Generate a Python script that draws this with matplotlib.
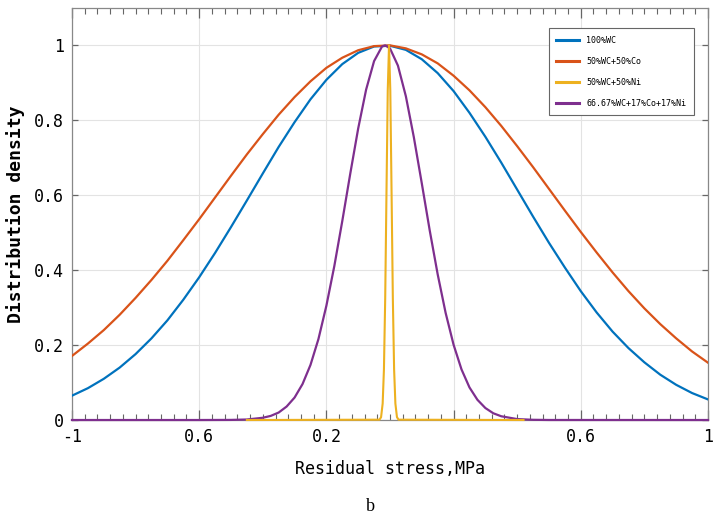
import numpy as np
import matplotlib
matplotlib.use('Agg')
import matplotlib.pyplot as plt
from matplotlib.ticker import MultipleLocator

# values
x_wide = [-1.0, -0.95, -0.9, -0.85, -0.8, -0.75, -0.7, -0.65, -0.6, -0.55, -0.5,
          -0.45, -0.4, -0.35, -0.3, -0.25, -0.2, -0.15, -0.1, -0.05, 0.0,
          0.05, 0.1, 0.15, 0.2, 0.25, 0.3, 0.35, 0.4, 0.45, 0.5,
          0.55, 0.6, 0.65, 0.7, 0.75, 0.8, 0.85, 0.9, 0.95, 1.0]
wc = [0.065, 0.085, 0.110, 0.140, 0.176, 0.218, 0.266, 0.321, 0.381, 0.446, 0.515,
      0.586, 0.658, 0.729, 0.795, 0.856, 0.908, 0.950, 0.980, 0.997, 0.999,
      0.988, 0.963, 0.926, 0.878, 0.820, 0.756, 0.687, 0.615, 0.543, 0.473,
      0.407, 0.344, 0.287, 0.236, 0.192, 0.154, 0.121, 0.094, 0.072, 0.055]
wc_co = [0.171, 0.204, 0.240, 0.281, 0.326, 0.374, 0.425, 0.480, 0.536, 0.594, 0.652,
         0.709, 0.763, 0.815, 0.862, 0.904, 0.940, 0.967, 0.987, 0.998, 1.000,
         0.992, 0.976, 0.952, 0.919, 0.880, 0.835, 0.785, 0.731, 0.675, 0.617,
         0.559, 0.502, 0.447, 0.394, 0.344, 0.298, 0.256, 0.218, 0.183, 0.153]

x_ni = [-0.45, -0.033, -0.028, -0.023, -0.019, -0.015, -0.011, -0.007, -0.003,
        0.001, 0.005, 0.009, 0.013, 0.017, 0.022, 0.027, 0.42]
wc_ni = [0.0, 0.0009, 0.0076, 0.044, 0.135, 0.325, 0.607, 0.88, 1.0,
         0.88, 0.607, 0.325, 0.135, 0.044, 0.0076, 0.0009, 0.0]

x_mix = [-1.0, -0.6, -0.5, -0.45, -0.4, -0.375, -0.35, -0.325, -0.3, -0.275, -0.25,
         -0.225, -0.2, -0.175, -0.15, -0.125, -0.1, -0.075, -0.05, -0.025, -0.015,
         0.0, 0.025, 0.05, 0.075, 0.1, 0.125, 0.15, 0.175, 0.2, 0.225,
         0.25, 0.275, 0.3, 0.325, 0.35, 0.4, 0.45, 0.5, 1.0]
wc_co_ni = [0.0, 0.0, 0.0003, 0.0014, 0.006, 0.011, 0.020, 0.036, 0.060, 0.096, 0.147,
            0.216, 0.305, 0.411, 0.531, 0.657, 0.778, 0.882, 0.958, 0.997, 1.0,
            0.992, 0.946, 0.864, 0.755, 0.632, 0.506, 0.389, 0.286, 0.201, 0.135,
            0.087, 0.054, 0.032, 0.018, 0.010, 0.0025, 0.0006, 0.0001, 0.0]

labels = ['100%WC', '50%WC+50%Co', '50%WC+50%Ni', '66.67%WC+17%Co+17%Ni']
colors = ['#0072BD', '#D95319', '#EDB120', '#7E2F8E']

x_ticks = [-1, -0.6, -0.2, 0.2, 0.6, 1]
x_ticklabels = ['-1', '0.6', '0.2', '', '0.6', '1']
y_ticks = [0, 0.2, 0.4, 0.6, 0.8, 1]
y_ticklabels = ['0', '0.2', '0.4', '0.6', '0.8', '1']

mono = 'DejaVu Sans Mono'

fig = plt.figure(figsize=(7.17, 5.27), dpi=100)
ax = fig.add_axes([0.1004, 0.203, 0.887, 0.782])

ax.plot(x_wide, wc, color=colors[0], lw=1.6, label=labels[0], zorder=3,
        solid_joinstyle='round')
ax.plot(x_wide, wc_co, color=colors[1], lw=1.6, label=labels[1], zorder=3,
        solid_joinstyle='round')
ax.plot(x_mix, wc_co_ni, color=colors[3], lw=1.6, label=labels[3], zorder=4,
        solid_joinstyle='round', clip_on=False)
ax.plot(x_ni, wc_ni, color=colors[2], lw=1.5, label=labels[2], zorder=5,
        solid_joinstyle='round', clip_on=False)

ax.set_xlim(-1, 1)
ax.set_ylim(0, 1.1)
ax.set_xticks(x_ticks)
ax.set_xticklabels(x_ticklabels, family=mono, fontsize=12)
ax.set_yticks(y_ticks)
ax.set_yticklabels(y_ticklabels, family=mono, fontsize=12)
ax.xaxis.set_minor_locator(MultipleLocator(0.04))

ax.grid(True, which='major', color='#e3e3e3', lw=0.8)
ax.set_axisbelow(True)
ax.tick_params(axis='x', which='major', direction='in', length=7, width=0.9,
               top=True, color='#666666', pad=6)
ax.tick_params(axis='x', which='minor', direction='in', length=4, width=0.8,
               top=True, color='#666666')
ax.tick_params(axis='y', which='major', direction='in', length=4, width=0.9,
               right=True, color='#666666', pad=6)
for sp in ax.spines.values():
    sp.set_color('#888888')
    sp.set_linewidth(0.9)

ax.set_xlabel('Residual stress,MPa', family=mono, fontsize=12, labelpad=10)
ax.set_ylabel('Distribution density', family=mono, fontsize=13,
              fontweight='bold', labelpad=6)

# legend order follows the reference: blue, orange, yellow, purple
handles, names = ax.get_legend_handles_labels()
order = [names.index(n) for n in labels]
leg = ax.legend([handles[i] for i in order], [names[i] for i in order],
                loc='upper right', bbox_to_anchor=(0.984, 0.961),
                prop={'family': mono, 'size': 6}, handlelength=2.8,
                labelspacing=1.45, borderpad=0.9, fancybox=False,
                edgecolor='#666666', framealpha=1)
leg.get_frame().set_linewidth(0.8)
for line in leg.get_lines():
    line.set_linewidth(2.2)

fig.text(0.516, 0.022, 'b', family='Liberation Serif', fontsize=13,
         ha='center', va='bottom')

fig.savefig('out.png', dpi=100)
